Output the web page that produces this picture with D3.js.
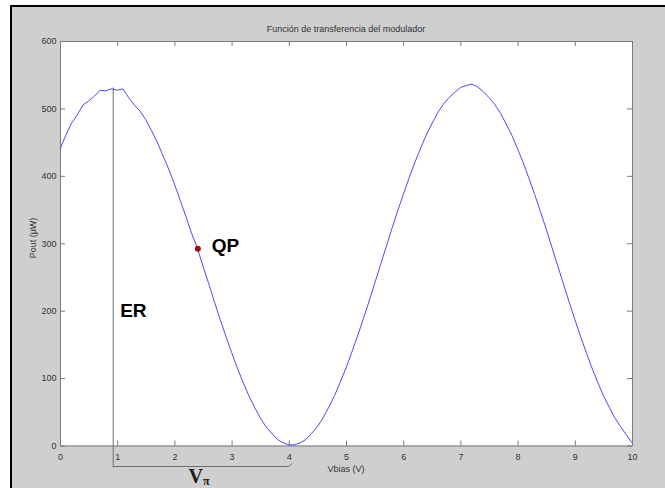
<!DOCTYPE html>
<html>
<head>
<meta charset="utf-8">
<script src="https://cdn.jsdelivr.net/npm/d3@7"></script>
<style>
  body { margin: 0; background: #fff; }
  svg { display: block; }
  .tick text { font-family: "Liberation Sans", Arial, sans-serif; font-size: 9px; fill: #333; }
</style>
</head>
<body>
<div id="chart"></div>
<script>
const vbias = d3.range(0, 101).map(i => i / 10);
const pout = [
  440, 460, 478, 490, 505, 511, 518, 527, 526, 529,
  527, 529, 516, 505, 496, 483, 467, 450, 430, 410,
  388, 364, 340, 315, 293, 266, 240, 213, 187, 162,
  138, 115, 94, 74, 57, 41, 28, 18, 9, 4,
  1, 1, 4, 9, 18, 28, 41, 57, 74, 94,
  115, 138, 162, 187, 213, 240, 267, 294, 321, 347,
  372, 396, 419, 440, 460, 477, 493, 506, 516, 524,
  531, 534, 536, 532, 525, 516, 506, 493, 477, 460,
  440, 419, 396, 372, 347, 321, 294, 267, 240, 213,
  187, 162, 138, 115, 94, 74, 57, 41, 28, 16,
  4
];
const xTicks = [0, 1, 2, 3, 4, 5, 6, 7, 8, 9, 10];
const yTicks = [0, 100, 200, 300, 400, 500, 600];

// annotations
const quiescent = { v: 2.41, p: 292 };
const erLine = { v: 0.93, p: 531 };
const vpiSpan = [0.93, 4.0];

const W = 665, H = 488;
const margin = { top: 41, right: 33, bottom: 42.5, left: 60 };
const width = W - margin.left - margin.right;
const height = H - margin.top - margin.bottom;

const svg = d3.select("#chart").append("svg")
    .attr("width", W)
    .attr("height", H);

// figure background with black frame
svg.append("rect")
    .attr("x", 11).attr("y", 6)
    .attr("width", W + 10).attr("height", H + 10)
    .attr("fill", "#cfcfcf")
    .attr("stroke", "#000")
    .attr("stroke-width", 2);

const g = svg.append("g")
    .attr("transform", `translate(${margin.left},${margin.top})`);

const x = d3.scaleLinear().domain([0, 10]).range([0, width]);
const y = d3.scaleLinear().domain([0, 600]).range([height, 0]);

// plot area
g.append("rect")
    .attr("width", width).attr("height", height)
    .attr("fill", "#fff");

// axes, MATLAB style: inward ticks on all four sides
const axisColor = "#7a7a7a";
const bottomAxis = g.append("g")
    .attr("transform", `translate(0,${height})`)
    .call(d3.axisBottom(x).tickValues(xTicks).tickSize(-5).tickPadding(8).tickSizeOuter(0));
const leftAxis = g.append("g")
    .call(d3.axisLeft(y).tickValues(yTicks).tickSize(-5).tickPadding(8).tickSizeOuter(0));
const topAxis = g.append("g")
    .call(d3.axisTop(x).tickValues(xTicks).tickSize(-5).tickFormat("").tickSizeOuter(0));
const rightAxis = g.append("g")
    .attr("transform", `translate(${width},0)`)
    .call(d3.axisRight(y).tickValues(yTicks).tickSize(-5).tickFormat("").tickSizeOuter(0));

[bottomAxis, leftAxis, topAxis, rightAxis].forEach(a => {
    a.select(".domain").attr("stroke", axisColor);
    a.selectAll(".tick line").attr("stroke", axisColor);
});
leftAxis.selectAll(".tick text").attr("dx", "0.5em");

// title and axis labels
svg.append("text")
    .attr("x", margin.left + width / 2)
    .attr("y", 32)
    .attr("text-anchor", "middle")
    .style("font-family", "Liberation Sans, Arial, sans-serif")
    .style("font-size", "9px")
    .attr("fill", "#333")
    .text("Función de transferencia del modulador");

svg.append("text")
    .attr("x", margin.left + width / 2)
    .attr("y", margin.top + height + 26)
    .attr("text-anchor", "middle")
    .style("font-family", "Liberation Sans, Arial, sans-serif")
    .style("font-size", "9px")
    .attr("fill", "#333")
    .text("Vbias (V)");

svg.append("text")
    .attr("transform", `translate(36,${margin.top + 197}) rotate(-90)`)
    .attr("text-anchor", "middle")
    .style("font-family", "Liberation Sans, Arial, sans-serif")
    .style("font-size", "9px")
    .attr("fill", "#333")
    .text("Pout (µW)");

// ER vertical marker and Vπ bracket
const bracketY = height + 21;
g.append("line")
    .attr("x1", x(erLine.v)).attr("x2", x(erLine.v))
    .attr("y1", y(erLine.p)).attr("y2", bracketY + 1)
    .attr("stroke", "#6e6e6e");
g.append("line")
    .attr("x1", x(vpiSpan[0])).attr("x2", x(vpiSpan[1]))
    .attr("y1", bracketY).attr("y2", bracketY)
    .attr("stroke", "#6e6e6e");
g.append("line")
    .attr("x1", x(vpiSpan[1])).attr("x2", x(vpiSpan[1]) + 3)
    .attr("y1", bracketY).attr("y2", bracketY - 3)
    .attr("stroke", "#6e6e6e");

// transfer curve
const line = d3.line()
    .x((d, i) => x(vbias[i]))
    .y(d => y(d));

g.append("path")
    .datum(pout)
    .attr("fill", "none")
    .attr("stroke", "#4a4aff")
    .attr("stroke-width", 1)
    .attr("d", line);

// quiescent point
g.append("circle")
    .attr("cx", x(quiescent.v))
    .attr("cy", y(quiescent.p))
    .attr("r", 3)
    .attr("fill", "#a01010");

const boldLabel = (txt, px, py) => g.append("text")
    .attr("x", px).attr("y", py)
    .style("font-family", "Liberation Sans, Arial, sans-serif")
    .style("font-weight", "bold")
    .style("font-size", "19px")
    .attr("fill", "#000")
    .text(txt);

boldLabel("QP", x(quiescent.v) + 14, y(quiescent.p) + 3);
boldLabel("ER", x(erLine.v) + 7, y(190));

const vpi = g.append("text")
    .attr("x", (x(vpiSpan[0]) + x(vpiSpan[1])) / 2 - 2)
    .attr("y", height + 37)
    .attr("text-anchor", "middle")
    .style("font-family", "Liberation Serif, Times New Roman, serif")
    .style("font-weight", "bold")
    .style("font-size", "20px")
    .attr("fill", "#1a1a1a");
vpi.append("tspan").text("V");
vpi.append("tspan").attr("dy", 2).style("font-size", "12px").text("π");
</script>
</body>
</html>
